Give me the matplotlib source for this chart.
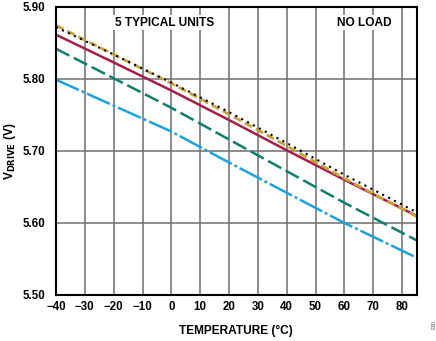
import matplotlib
matplotlib.use("Agg")
import matplotlib.pyplot as plt

plt.rcParams['font.family'] = ['Liberation Sans', 'DejaVu Sans']

temps = [-40, -20, 0, 20, 40, 60, 85]
unit_black = [5.872, 5.834, 5.795, 5.754, 5.711, 5.667, 5.615]
unit_gold = [5.8745, 5.834, 5.794, 5.751, 5.707, 5.662, 5.609]
unit_crimson = [5.8615, 5.823, 5.784, 5.743, 5.701, 5.660, 5.610]
unit_teal = [5.842, 5.801, 5.760, 5.716, 5.672, 5.628, 5.576]
unit_blue = [5.799, 5.763, 5.727, 5.684, 5.642, 5.600, 5.552]

xticks = list(range(-40, 81, 10))
yticks = [5.50, 5.60, 5.70, 5.80, 5.90]

fig = plt.figure(figsize=(4.36, 3.41), dpi=100)
ax = fig.add_axes([0.1284, 0.1349, 0.8269, 0.8446])

ax.plot(temps, unit_blue, color='#1BA3DC', lw=1.8, dashes=(10, 1.2, 1.2, 1.2))
ax.plot(temps, unit_teal, color='#0E7F6E', lw=1.8, dashes=(6, 2))
ax.plot(temps, unit_crimson, color='#A41E47', lw=1.8)
ax.plot(temps, unit_gold, color='#C9A23A', lw=2.0, dashes=(3, 1.5))
ax.plot(temps, unit_black, color='black', lw=1.5, dashes=(1, 2.2))

ax.set_xlim(-40, 85)
ax.set_ylim(5.5, 5.9)
ax.set_xticks(xticks)
ax.set_yticks(yticks)
ax.set_xticklabels([str(t).replace('-', '\u2212') for t in xticks], fontsize=8.3, fontweight='bold')
ax.set_yticklabels([f"{v:.2f}" for v in yticks], fontsize=8.3, fontweight='bold')
ax.tick_params(length=0, pad=4)
ax.tick_params(axis='y', pad=8)
ax.grid(True, color='#6e6e6e', lw=1.1)
ax.set_axisbelow(True)
for s in ax.spines.values():
    s.set_linewidth(1.5)
    s.set_color('black')

ax.set_xlabel('TEMPERATURE (°C)', fontsize=8.6, fontweight='bold', labelpad=9)
ax.set_ylabel(r'V$_{\mathbf{DRIVE}}$ (V)', fontsize=8.6, fontweight='bold', labelpad=3)

ax.text(0.3, 0.945, '5 TYPICAL UNITS', transform=ax.transAxes, fontsize=8.6, fontweight='bold',
        ha='center', va='center', bbox=dict(facecolor='white', edgecolor='none', pad=1))
ax.text(0.855, 0.945, 'NO LOAD', transform=ax.transAxes, fontsize=8.6, fontweight='bold',
        ha='center', va='center', bbox=dict(facecolor='white', edgecolor='none', pad=1))

fig.text(0.99, 0.045, '035', fontsize=4, rotation=270, color='#555555', ha='center', va='center')

fig.savefig('out.png', dpi=100)
